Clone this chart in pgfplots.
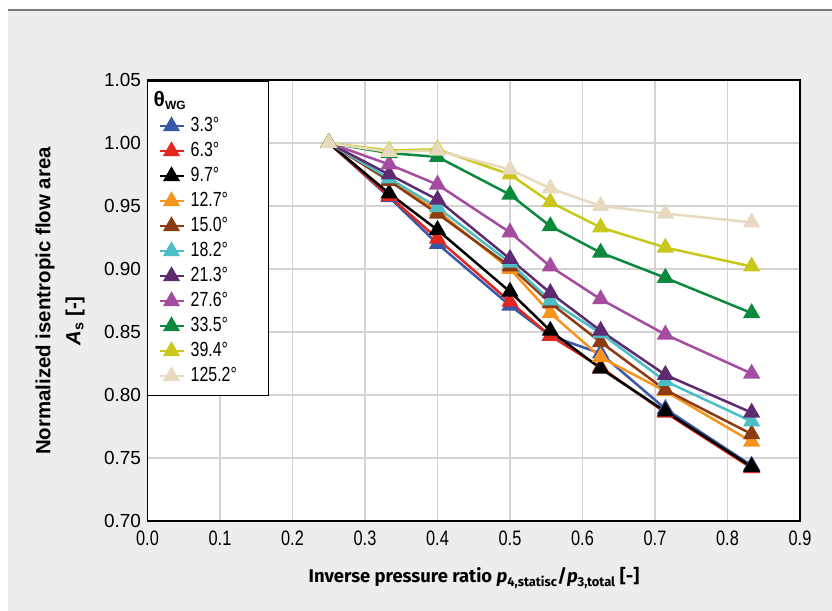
\documentclass[border=0pt]{standalone}
\usepackage{fontspec}
\setmainfont{Liberation Sans}
\newfontfamily\condfont[FakeStretch=0.78]{Liberation Sans}
\newfontfamily\xlabfont{Fira Sans}
\usepackage{pgfplots}
\usepackage{pgfplotstable}
\pgfplotsset{compat=1.18}

\definecolor{cA}{HTML}{3B57A7}
\definecolor{cB}{HTML}{E3261E}
\definecolor{cC}{HTML}{000000}
\definecolor{cD}{HTML}{F7941E}
\definecolor{cE}{HTML}{8C3B12}
\definecolor{cF}{HTML}{4CBFC6}
\definecolor{cG}{HTML}{5E2A70}
\definecolor{cH}{HTML}{A44C9F}
\definecolor{cI}{HTML}{0B8A3D}
\definecolor{cJ}{HTML}{C9C71A}
\definecolor{cK}{HTML}{E8DABF}
\definecolor{panelgray}{HTML}{EDEDED}
\definecolor{topline}{HTML}{7A7A7A}
\definecolor{gridgray}{HTML}{D3D3D3}

\pgfplotstableread{
x      a     b     c     d     e     f     g     h     i     j     k
0.2500 1.000 1.000 1.000 1.000 1.000 1.000 1.000 1.000 1.000 1.000 1.000
0.3333 0.957 0.958 0.960 0.971 0.970 0.972 0.975 0.983 0.992 0.994 0.993
0.4000 0.920 0.924 0.931 0.946 0.944 0.949 0.955 0.967 0.989 0.995 0.994
0.5000 0.871 0.874 0.882 0.900 0.902 0.905 0.908 0.929 0.959 0.975 0.979
0.5556 0.847 0.847 0.851 0.865 0.873 0.875 0.881 0.902 0.934 0.953 0.964
0.6250 0.833 0.822 0.821 0.830 0.842 0.849 0.851 0.876 0.913 0.933 0.950
0.7143 0.789 0.786 0.787 0.803 0.804 0.811 0.816 0.848 0.893 0.917 0.944
0.8333 0.744 0.742 0.743 0.763 0.769 0.779 0.786 0.817 0.865 0.902 0.937
}\datatable

\newcommand\lt[1]{\hspace*{4bp}\makebox[65bp][l]{#1}}

\begin{document}
\begin{tikzpicture}
\path[use as bounding box] (0bp,0bp) rectangle (832bp,611bp);
\fill[white] (0bp,0bp) rectangle (832bp,611bp);
\fill[panelgray] (8bp,0bp) rectangle (832bp,601bp);
\draw[line width=2.2bp, topline] (8bp,601bp) -- (832bp,601bp);

\begin{axis}[
  at={(147.5bp,90bp)}, anchor=south west,
  scale only axis, width=652.5bp, height=441bp,
  xmin=0, xmax=0.9, ymin=0.70, ymax=1.05,
  xtick={0,0.1,0.2,0.3,0.4,0.5,0.6,0.7,0.8,0.9},
  ytick={0.70,0.75,0.80,0.85,0.90,0.95,1.00,1.05},
  grid=major,
  grid style={line width=1.2bp, gridgray},
  major tick length=0pt,
  axis line style={line width=1.8bp, black},
  axis background/.style={fill=white},
  /pgf/number format/assume math mode=true,
  xticklabel style={font=\condfont\fontsize{21}{21}\selectfont, yshift=-6bp,
    /pgf/number format/.cd, fixed, fixed zerofill, precision=1},
  yticklabel style={font=\fontsize{19}{19}\selectfont, xshift=-3bp,
    /pgf/number format/.cd, fixed, fixed zerofill, precision=2},
  every axis plot/.append style={line width=2.5bp, mark=triangle*, mark size=7.5,
    mark options={solid, line width=0.4bp}},
  legend style={at={(0,1)}, anchor=north west, xshift=-1bp, yshift=-1bp,
    draw=black, line width=1.5bp, fill=white,
    inner xsep=11bp, inner ysep=8bp, row sep=2bp,
    font=\condfont\fontsize{20.5}{20.5}\selectfont,
    nodes={text height=15bp, text depth=4bp, inner ysep=2bp}},
  legend cell align=left,
  legend image code/.code={
    \draw[mark repeat=2, mark phase=2] plot coordinates {(0bp,0bp) (12bp,0bp) (24bp,0bp)};
  },
]
\addlegendimage{empty legend}
\addlegendentry{\hspace*{-33bp}{\normalfont\bfseries\fontsize{21}{21}\selectfont θ}\textsubscript{\normalfont\bfseries\fontsize{12}{12}\selectfont WG}}
\addplot[cA, mark options={fill=cA, draw=cA}] table[x=x, y=a] {\datatable};
\addlegendentry{\lt{3.3°}}
\addplot[cB, mark options={fill=cB, draw=cB}] table[x=x, y=b] {\datatable};
\addlegendentry{\lt{6.3°}}
\addplot[cC, mark options={fill=cC, draw=cC}] table[x=x, y=c] {\datatable};
\addlegendentry{\lt{9.7°}}
\addplot[cD, mark options={fill=cD, draw=cD}] table[x=x, y=d] {\datatable};
\addlegendentry{\lt{12.7°}}
\addplot[cE, mark options={fill=cE, draw=cE}] table[x=x, y=e] {\datatable};
\addlegendentry{\lt{15.0°}}
\addplot[cF, mark options={fill=cF, draw=cF}] table[x=x, y=f] {\datatable};
\addlegendentry{\lt{18.2°}}
\addplot[cG, mark options={fill=cG, draw=cG}] table[x=x, y=g] {\datatable};
\addlegendentry{\lt{21.3°}}
\addplot[cH, mark options={fill=cH, draw=cH}] table[x=x, y=h] {\datatable};
\addlegendentry{\lt{27.6°}}
\addplot[cI, mark options={fill=cI, draw=cI}] table[x=x, y=i] {\datatable};
\addlegendentry{\lt{33.5°}}
\addplot[cJ, mark options={fill=cJ, draw=cJ}] table[x=x, y=j] {\datatable};
\addlegendentry{\lt{39.4°}}
\addplot[cK, mark options={fill=cK, draw=cK}] table[x=x, y=k] {\datatable};
\addlegendentry{\lt{125.2°}}
\end{axis}

\node[rotate=90, font=\bfseries\fontsize{20.5}{20.5}\selectfont] at (45bp,310bp) {Normalized isentropic flow area};
\node[rotate=90, font=\bfseries\fontsize{20.5}{20.5}\selectfont] at (75bp,290bp) {\textit{A}\textsubscript{s} [-]};
\node[font=\xlabfont\bfseries\fontsize{18.5}{18.5}\selectfont] at (474bp,33bp) {Inverse pressure ratio \textit{p}\textsubscript{4,statisc}/\textit{p}\textsubscript{3,total} [-]};
\end{tikzpicture}
\end{document}
